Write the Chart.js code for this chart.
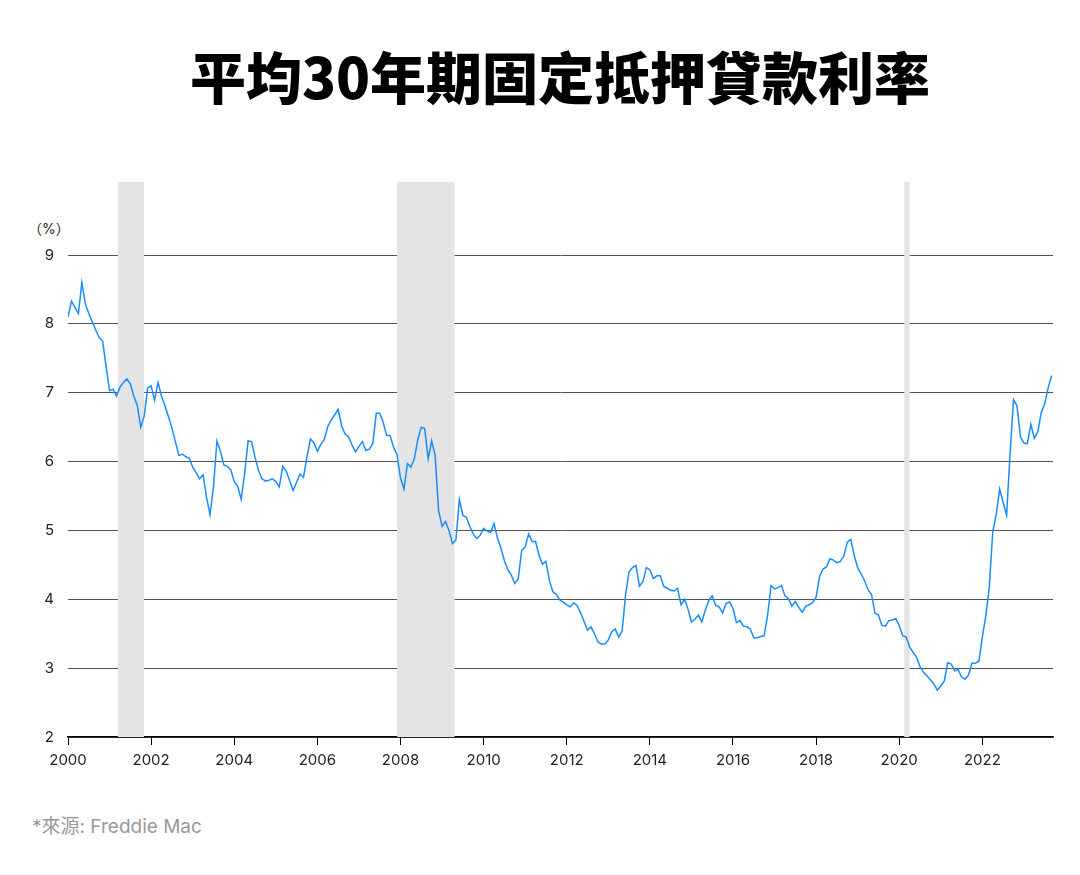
<!DOCTYPE html>
<html>
<head>
<meta charset="utf-8">
<script src="https://cdn.jsdelivr.net/npm/chart.js@4"></script>
<style>
  body { margin: 0; width: 1080px; height: 875px; background: #fff; font-family: Inter, "Noto Sans CJK TC", sans-serif; position: relative; overflow: hidden; }
  #title { position: absolute; top: 34px; left: 20px; width: 1080px; text-align: center; font-size: 56px; font-weight: 900; color: #000; font-family: "Noto Sans CJK TC", sans-serif; }
  #unit { position: absolute; top: 218px; left: 28px; font-size: 14px; color: #222; }
  #source { position: absolute; top: 811px; left: 32px; font-size: 19px; color: #999; }
  #wrap { position: absolute; top: 170px; left: 0; width: 1080px; height: 600px; }
</style>
</head>
<body>
<div id="title">平均30年期固定抵押貸款利率</div>
<div id="unit">（%）</div>
<div id="wrap"><canvas id="chart"></canvas></div>
<div id="source">*來源: Freddie Mac</div>
<script>
// monthly averages, Jan 2000 onward
const startYear = 2000;
const rates = [
  8.10,8.33,8.24,8.15,8.60,8.29,8.15,8.03,7.91,7.80,7.75,7.38,
  7.03,7.05,6.95,7.08,7.15,7.20,7.13,6.95,6.82,6.50,6.66,7.07,
  7.10,6.89,7.15,6.95,6.81,6.65,6.49,6.29,6.09,6.11,6.07,6.05,
  5.92,5.84,5.75,5.81,5.48,5.23,5.63,6.30,6.15,5.95,5.93,5.88,
  5.71,5.64,5.45,5.83,6.30,6.29,6.06,5.87,5.75,5.72,5.73,5.75,
  5.71,5.63,5.93,5.86,5.72,5.58,5.70,5.82,5.77,6.07,6.33,6.27,
  6.15,6.25,6.32,6.51,6.60,6.68,6.76,6.52,6.40,6.36,6.24,6.14,
  6.22,6.29,6.16,6.18,6.26,6.70,6.70,6.57,6.38,6.38,6.21,6.10,
  5.76,5.60,5.97,5.92,6.04,6.32,6.50,6.48,6.04,6.30,6.09,5.29,
  5.06,5.13,5.00,4.81,4.86,5.45,5.22,5.19,5.06,4.95,4.88,4.93,
  5.03,4.99,4.97,5.10,4.89,4.74,4.56,4.43,4.35,4.23,4.30,4.71,
  4.76,4.95,4.84,4.84,4.64,4.51,4.55,4.27,4.11,4.07,3.99,3.96,
  3.92,3.89,3.95,3.91,3.80,3.68,3.55,3.60,3.50,3.38,3.35,3.35,
  3.41,3.53,3.57,3.45,3.54,4.07,4.40,4.46,4.49,4.19,4.26,4.46,
  4.43,4.30,4.34,4.34,4.19,4.16,4.13,4.12,4.16,3.92,4.00,3.86,
  3.67,3.71,3.77,3.67,3.84,3.98,4.05,3.91,3.89,3.80,3.94,3.96,
  3.87,3.66,3.69,3.61,3.60,3.57,3.44,3.44,3.46,3.47,3.77,4.20,
  4.15,4.17,4.20,4.05,4.01,3.90,3.97,3.88,3.81,3.90,3.92,3.95,
  4.03,4.33,4.44,4.47,4.59,4.57,4.53,4.55,4.63,4.83,4.87,4.64,
  4.46,4.37,4.27,4.14,4.07,3.80,3.77,3.62,3.61,3.69,3.70,3.72,
  3.62,3.47,3.45,3.31,3.23,3.16,3.02,2.94,2.89,2.83,2.77,2.68,
  2.74,2.81,3.08,3.06,2.96,2.98,2.87,2.84,2.90,3.07,3.07,3.10,
  3.45,3.76,4.17,4.98,5.23,5.60,5.41,5.22,6.11,6.90,6.81,6.36,
  6.27,6.26,6.54,6.34,6.43,6.71,6.84,7.07,7.25
];
const recessions = [[2001.2, 2001.83], [2007.92, 2009.3], [2020.12, 2020.25]];
const yTicks = [2, 3, 4, 5, 6, 7, 8, 9];

const points = rates.map((v, i) => ({ x: startYear + i / 12, y: v }));

const bandPlugin = {
  id: 'bands',
  beforeDatasetsDraw(chart) {
    const { ctx, scales: { x, y } } = chart;
    ctx.save();
    ctx.fillStyle = '#e4e4e4';
    const top = y.getPixelForValue(10.06);
    const bottom = y.getPixelForValue(2);
    recessions.forEach(([a, b]) => {
      const x0 = x.getPixelForValue(a), x1 = x.getPixelForValue(b);
      ctx.fillRect(x0, top, x1 - x0, bottom - top);
    });
    ctx.restore();
  }
};

new Chart(document.getElementById('chart'), {
  type: 'line',
  data: {
    datasets: [{
      data: points,
      borderColor: '#1a8cff',
      borderWidth: 1.5,
      pointRadius: 0,
      tension: 0
    }]
  },
  options: {
    responsive: true,
    maintainAspectRatio: false,
    animation: false,
    layout: { padding: { top: 85, right: 27 } },
    plugins: { legend: { display: false }, tooltip: { enabled: false } },
    scales: {
      x: {
        type: 'linear',
        min: 2000,
        max: 2023.7,
        afterFit: s => { s.height = 33; },
        afterBuildTicks: s => {
          s.ticks = [];
          for (let yr = 2000; yr <= 2022; yr += 2) s.ticks.push({ value: yr });
        },
        ticks: { color: '#222', font: { family: 'Inter', size: 15 }, callback: v => String(v), maxRotation: 0, padding: 6 },
        grid: { drawOnChartArea: false, tickLength: 8, color: '#000' },
        border: { color: '#000', width: 1.5 }
      },
      y: {
        min: 2,
        max: 9,
        afterFit: s => { s.width = 68; },
        afterBuildTicks: s => { s.ticks = yTicks.map(v => ({ value: v })); },
        ticks: { color: '#222', font: { family: 'Inter', size: 15 }, padding: 14 },
        grid: { color: '#555', drawTicks: false },
        border: { display: false }
      }
    }
  },
  plugins: [bandPlugin]
});
</script>
</body>
</html>
